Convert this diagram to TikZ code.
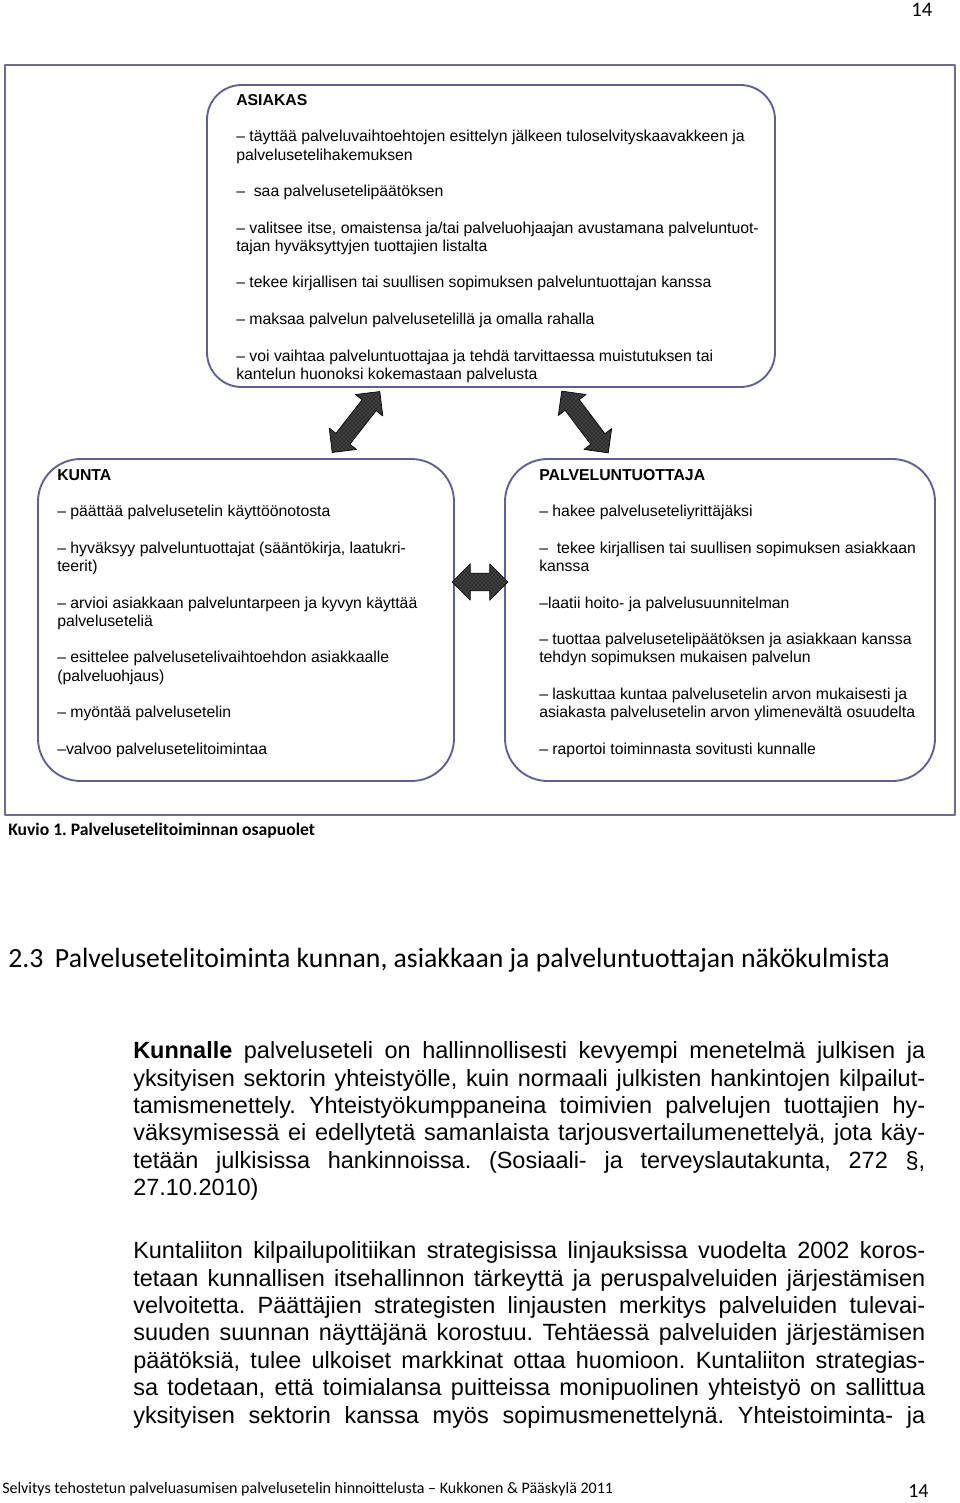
\documentclass[tikz,border=0pt]{standalone}
\usepackage{fontspec}
\setmainfont{Liberation Sans}
\newfontfamily\calibrifont{Carlito}
\usetikzlibrary{shapes.arrows,patterns,positioning}
\frenchspacing
\definecolor{boxline}{RGB}{95,95,145}
\definecolor{frameline}{RGB}{110,110,140}
\newcommand{\boxfont}{\fontsize{11.85pt}{13.7pt}\selectfont}
\newcommand{\itemgap}{\\[13.7pt]}
\tikzset{
  party/.style={draw=boxline,line width=1.4pt,rounded corners=26pt},
  party text/.style={anchor=north west,inner sep=0pt,align=left,font=\boxfont},
  swap arrow/.style={double arrow,draw=black,line width=.5pt,inner xsep=0pt,inner ysep=6.4pt,
    preaction={fill=black!82},pattern=crosshatch dots,pattern color=black!50},
  body text/.style={anchor=north west,inner sep=0pt,text width=594pt,align=justify,
    font=\fontsize{17.6pt}{20.55pt}\selectfont}
}

\begin{document}
\begin{tikzpicture}[x=0.75pt,y=-0.75pt,line cap=round,line join=round]
  \useasboundingbox[fill=white] (0,0) rectangle (960,1503);

  % page number and figure frame
  \node[anchor=base west,inner sep=0pt,font=\calibrifont\fontsize{15.5pt}{16pt}\selectfont] (pagetop) at (911,16) {14};
  \draw[frameline,line width=1.5pt] (5,65) rectangle (955,815);

  % the three parties
  \node[party,minimum width=426pt,minimum height=226.5pt] (asiakas) at (491,236) {};
  \node[party,rounded corners=32pt,minimum width=312pt,minimum height=241.5pt] (kunta) at (246,620) {};
  \node[party,rounded corners=32pt,minimum width=322.5pt,minimum height=241.5pt] (tuottaja) at (720,620) {};

  \node[party text] (asiakastext) at (236,94) {\textbf{ASIAKAS}\itemgap
    – täyttää palveluvaihtoehtojen esittelyn jälkeen tuloselvityskaavakkeen ja\\
    palvelusetelihakemuksen\itemgap
    –\ \ saa palvelusetelipäätöksen\itemgap
    – valitsee itse, omaistensa ja/tai palveluohjaajan avustamana palveluntuot-\\
    tajan hyväksyttyjen tuottajien listalta\itemgap
    – tekee kirjallisen tai suullisen sopimuksen palveluntuottajan kanssa\itemgap
    – maksaa palvelun palvelusetelillä ja omalla rahalla\itemgap
    – voi vaihtaa palveluntuottajaa ja tehdä tarvittaessa muistutuksen tai\\
    kantelun huonoksi kokemastaan palvelusta};

  \node[party text] (kuntatext) at (57,469) {\textbf{KUNTA}\itemgap
    – päättää palvelusetelin käyttöönotosta\itemgap
    – hyväksyy palveluntuottajat (sääntökirja, laatukri-\\
    teerit)\itemgap
    – arvioi asiakkaan palveluntarpeen ja kyvyn käyttää\\
    palveluseteliä\itemgap
    – esittelee palvelusetelivaihtoehdon asiakkaalle\\
    (palveluohjaus)\itemgap
    – myöntää palvelusetelin\itemgap
    –valvoo palvelusetelitoimintaa};

  \node[party text] (tuottajatext) at (539,469) {\textbf{PALVELUNTUOTTAJA}\itemgap
    – hakee palveluseteliyrittäjäksi\itemgap
    –\ \ tekee kirjallisen tai suullisen sopimuksen asiakkaan\\
    kanssa\itemgap
    –laatii hoito- ja palvelusuunnitelman\itemgap
    – tuottaa palvelusetelipäätöksen ja asiakkaan kanssa\\
    tehdyn sopimuksen mukaisen palvelun\itemgap
    – laskuttaa kuntaa palvelusetelin arvon mukaisesti ja\\
    asiakasta palvelusetelin arvon ylimenevältä osuudelta\itemgap
    – raportoi toiminnasta sovitusti kunnalle};

  % two-way arrows between the parties
  \node[swap arrow,rotate=52,minimum height=58pt,double arrow head extend=6.4pt] (akarrow) at (356,422) {};
  \node[swap arrow,rotate=-53,minimum height=58pt,double arrow head extend=6.4pt] (aparrow) at (585,422) {};
  \node[swap arrow,minimum height=42pt,double arrow head extend=7pt] (kparrow) at (480,582) {};

  \node[anchor=base west,inner sep=0pt,font=\calibrifont\bfseries\fontsize{13.2pt}{14pt}\selectfont] (caption) at (8,835) {Kuvio 1. Palvelusetelitoiminnan osapuolet};

  % running text
  \node[anchor=base west,inner sep=0pt,font=\calibrifont\fontsize{20.8pt}{22pt}\selectfont] (section) at (8,967)
    {2.3\hspace{0.42em}Palvelusetelitoiminta kunnan, asiakkaan ja palveluntuottajan näkökulmista};

  \node[body text] (para1) at (133,1041.5) {\textbf{Kunnalle} palveluseteli on hallinnollisesti kevyempi menetelmä julkisen ja\linebreak
    yksityisen sektorin yhteistyölle, kuin normaali julkisten hankintojen kilpailut-\linebreak
    tamismenettely. Yhteistyökumppaneina toimivien palvelujen tuottajien hy-\linebreak
    väksymisessä ei edellytetä samanlaista tarjousvertailumenettelyä, jota käy-\linebreak
    tetään julkisissa hankinnoissa. (Sosiaali- ja terveyslautakunta, 272 §,\linebreak
    27.10.2010)};

  \node[body text] (para2) at (133,1241.5) {Kuntaliiton kilpailupolitiikan strategisissa linjauksissa vuodelta 2002 koros-\linebreak
    tetaan kunnallisen itsehallinnon tärkeyttä ja peruspalveluiden järjestämisen\linebreak
    velvoitetta. Päättäjien strategisten linjausten merkitys palveluiden tulevai-\linebreak
    suuden suunnan näyttäjänä korostuu. Tehtäessä palveluiden järjestämisen\linebreak
    päätöksiä, tulee ulkoiset markkinat ottaa huomioon. Kuntaliiton strategias-\linebreak
    sa todetaan, että toimialansa puitteissa monipuolinen yhteistyö on sallittua\linebreak
    yksityisen sektorin kanssa myös sopimusmenettelynä. Yhteistoiminta- ja\parfillskip=0pt\par};

  \node[anchor=base west,inner sep=0pt,font=\calibrifont\fontsize{12pt}{13pt}\selectfont] (footer) at (2,1493)
    {Selvitys tehostetun palveluasumisen palvelusetelin hinnoittelusta – Kukkonen \& Pääskylä 2011};
  \node[anchor=base west,inner sep=0pt,font=\calibrifont\fontsize{15pt}{16pt}\selectfont] (pagebottom) at (908,1497) {14};
\end{tikzpicture}
\end{document}
